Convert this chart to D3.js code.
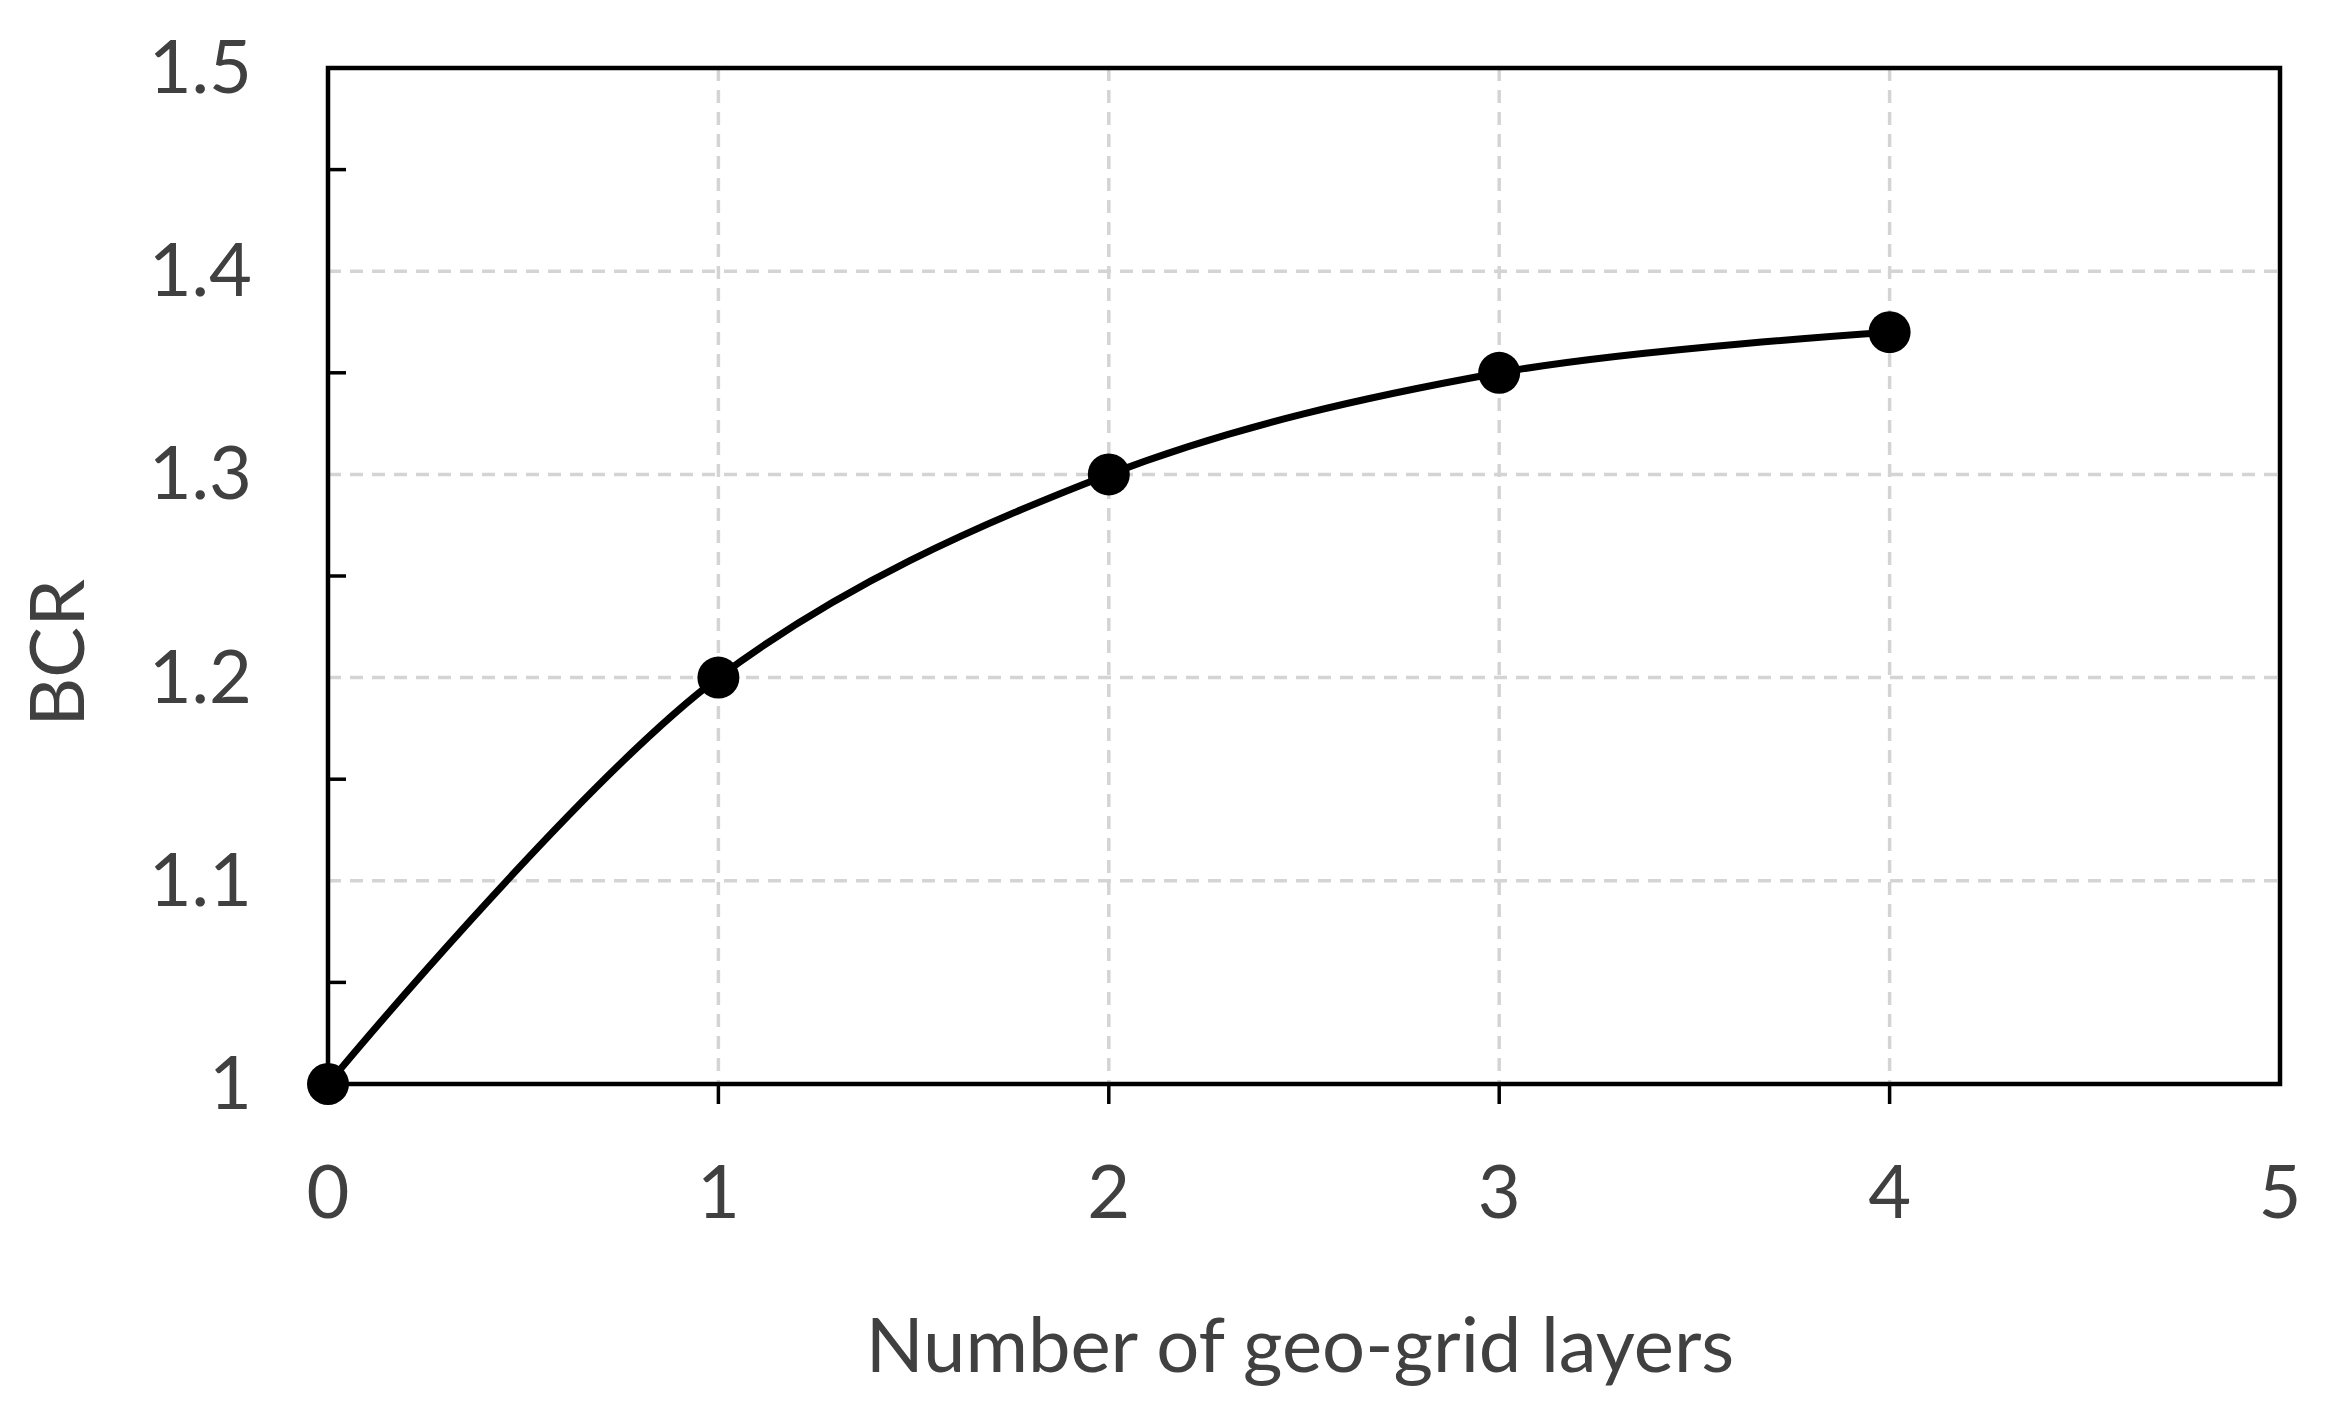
<!DOCTYPE html><html><head><meta charset="utf-8"><script src="https://cdn.jsdelivr.net/npm/d3@7"></script>
<style>body{margin:0;background:#fff}</style></head><body><svg id="c" width="2326" height="1414"></svg>
<script>
const layers=[0,1,2,3,4];
const bcr=[1.0,1.2,1.3,1.35,1.37];
const xTicks=[0,1,2,3,4,5];
const yTicks=[1,1.1,1.2,1.3,1.4,1.5];
const yMinor=[1.05,1.15,1.25,1.35,1.45];
const svg=d3.select("#c");
const L=328,R=2280,T=68,B=1084;
const x=d3.scaleLinear().domain([0,5]).range([L,R]);
const y=d3.scaleLinear().domain([1,1.5]).range([B,T]);
const font="Lato, 'Open Sans', sans-serif", col="#404040";
const g=svg.append("g");
g.selectAll(".gx").data(xTicks.slice(1,-1)).enter().append("line").attr("x1",d=>x(d)).attr("x2",d=>x(d)).attr("y1",T).attr("y2",B).attr("stroke","#d4d4d4").attr("stroke-width",3.5).attr("stroke-dasharray","13,9");
g.selectAll(".gy").data(yTicks.slice(1,-1)).enter().append("line").attr("y1",d=>y(d)).attr("y2",d=>y(d)).attr("x1",L).attr("x2",R).attr("stroke","#d4d4d4").attr("stroke-width",3.5).attr("stroke-dasharray","13,9");
g.selectAll(".ym").data(yMinor).enter().append("line").attr("y1",d=>y(d)).attr("y2",d=>y(d)).attr("x1",L).attr("x2",L+18).attr("stroke","#000").attr("stroke-width",3.5);
g.selectAll(".xm").data(xTicks.slice(1,-1)).enter().append("line").attr("x1",d=>x(d)).attr("x2",d=>x(d)).attr("y1",B).attr("y2",B+20).attr("stroke","#000").attr("stroke-width",3.5);
g.append("rect").attr("x",L).attr("y",T).attr("width",R-L).attr("height",B-T).attr("fill","none").attr("stroke","#000").attr("stroke-width",4.5);
g.selectAll(".yl").data(yTicks).enter().append("text").attr("x",252).attr("y",d=>y(d)+25).attr("text-anchor","end").attr("font-family",font).attr("font-size",74).attr("fill",col).text(d=>d3.format("")(d));
g.selectAll(".xl").data(xTicks).enter().append("text").attr("x",d=>x(d)).attr("y",1218).attr("text-anchor","middle").attr("font-family",font).attr("font-size",74).attr("fill",col).text(d=>d);
g.append("text").attr("x",1300).attr("y",1372).attr("text-anchor","middle").attr("font-family",font).attr("font-size",76).attr("fill",col).text("Number of geo-grid layers");
g.append("text").attr("transform","translate(84,653) rotate(-90)").attr("text-anchor","middle").attr("font-family",font).attr("font-size",76).attr("fill",col).text("BCR");
const pts=layers.map((d,i)=>[d,bcr[i]]);
g.append("path").attr("d",d3.line().x(d=>x(d[0])).y(d=>y(d[1])).curve(d3.curveCatmullRom.alpha(0.5))(pts)).attr("fill","none").attr("stroke","#000").attr("stroke-width",7);
g.selectAll(".pt").data(pts).enter().append("circle").attr("cx",d=>x(d[0])).attr("cy",d=>y(d[1])).attr("r",21).attr("fill","#000");
</script></body></html>
